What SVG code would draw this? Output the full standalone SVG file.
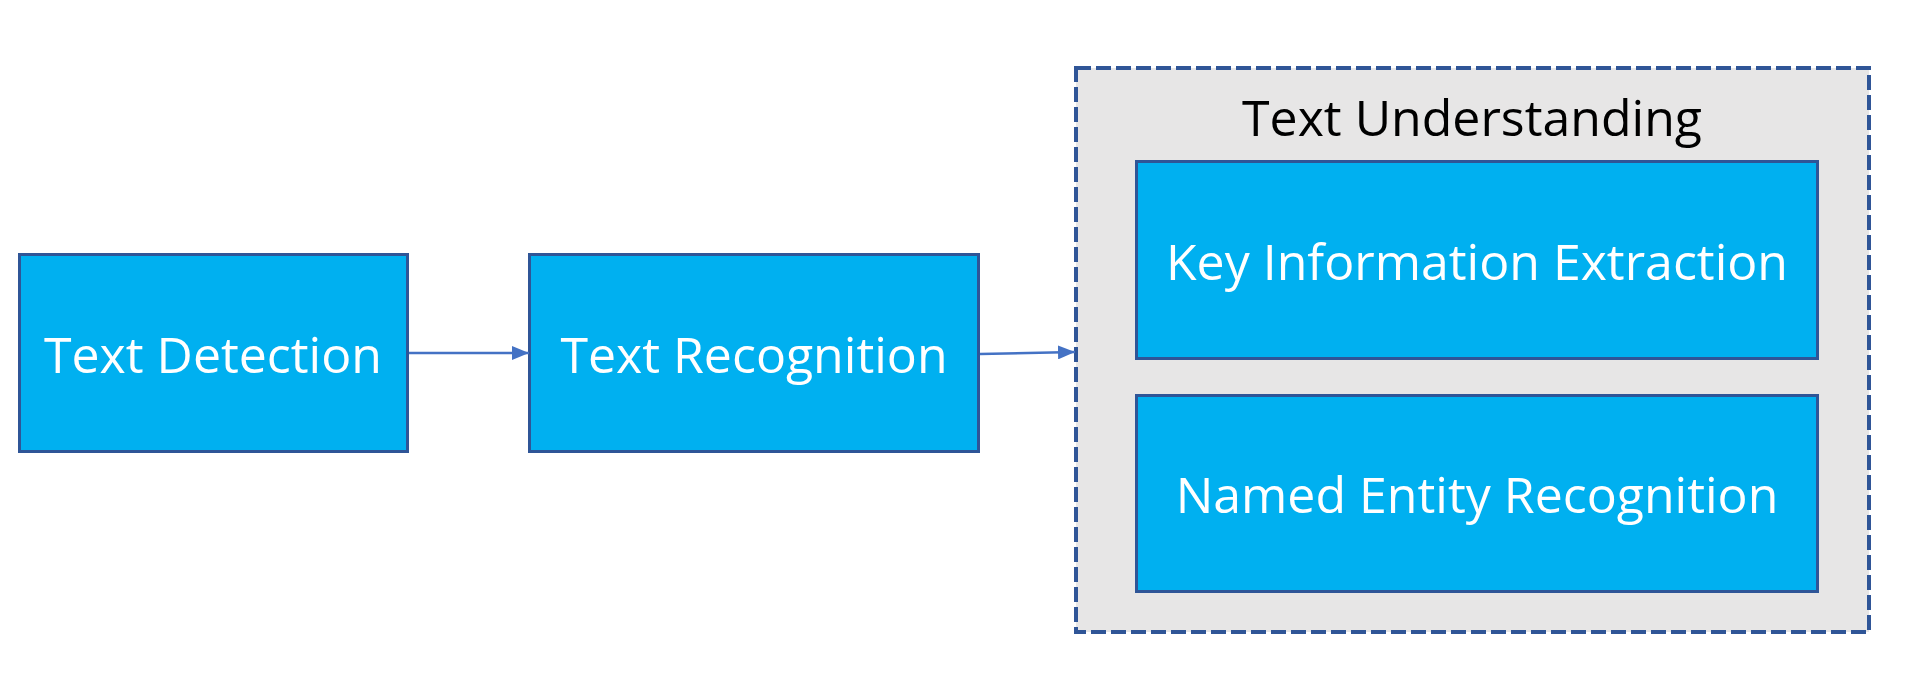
<svg xmlns="http://www.w3.org/2000/svg" width="1906" height="678" viewBox="0 0 1906 678">
<style>
.box{fill:#00B0F0;stroke:#2F5597;stroke-width:3}
.lbl{font-family:"Open Sans","Liberation Sans",sans-serif;font-size:50px;fill:#FFFFFF;text-anchor:middle}
.ttl{font-family:"Open Sans","Liberation Sans",sans-serif;font-size:50px;fill:#000000;text-anchor:middle}
.conn{stroke:#4472C4;stroke-width:2.5;fill:none}
</style>
<defs>
<marker id="arr" markerWidth="17" markerHeight="14" refX="17" refY="7" orient="auto" markerUnits="userSpaceOnUse">
<path d="M0,0 L17,7 L0,14 Z" fill="#4472C4"/>
</marker>
</defs>
<rect width="1906" height="678" fill="#FFFFFF"/>
<g id="text-understanding">
<rect x="1076" y="68" width="793" height="564" fill="#E7E6E6" stroke="#2F5597" stroke-width="4" stroke-dasharray="15 5"/>
<text class="ttl" x="1472" y="136">Text Understanding</text>
</g>
<g id="text-detection">
<rect class="box" x="19.5" y="254.5" width="388" height="197"/>
<text class="lbl" x="213" y="373">Text Detection</text>
</g>
<g id="text-recognition">
<rect class="box" x="529.5" y="254.5" width="449" height="197"/>
<text class="lbl" x="754" y="373">Text Recognition</text>
</g>
<g id="key-information-extraction">
<rect class="box" x="1136.5" y="161.5" width="681" height="197"/>
<text class="lbl" x="1477" y="280">Key Information Extraction</text>
</g>
<g id="named-entity-recognition">
<rect class="box" x="1136.5" y="395.5" width="681" height="196"/>
<text class="lbl" x="1477" y="513">Named Entity Recognition</text>
</g>
<g id="connectors">
<line class="conn" x1="409" y1="353" x2="529" y2="353" marker-end="url(#arr)"/>
<line class="conn" x1="980" y1="354" x2="1075" y2="352" marker-end="url(#arr)"/>
</g>
</svg>
